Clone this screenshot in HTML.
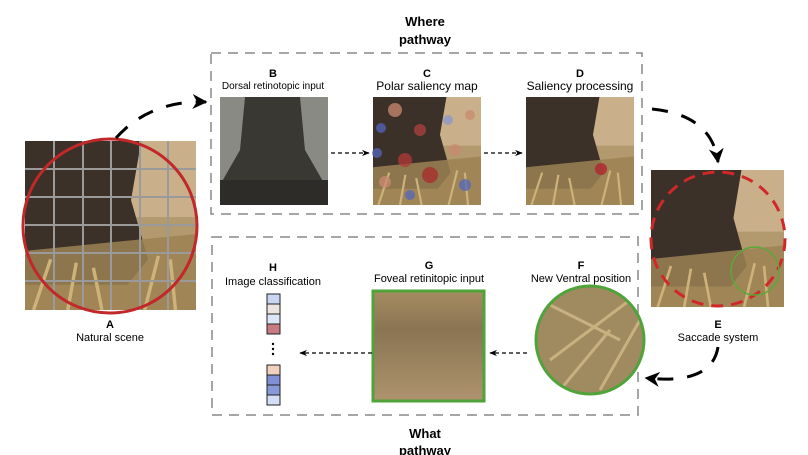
<!DOCTYPE html>
<html><head><meta charset="utf-8"><style>
html,body{margin:0;padding:0;background:#fff;}
svg{display:block;font-family:"Liberation Sans","DejaVu Sans",sans-serif;}
</style></head><body>
<svg width="808" height="455" viewBox="0 0 808 455" xmlns="http://www.w3.org/2000/svg">
<defs>
<symbol id="scene" viewBox="0 0 100 100" preserveAspectRatio="none">
<rect width="100" height="100" fill="#b39a6e"/>
<rect x="55" y="0" width="45" height="45" fill="#c9b08a"/>
<polygon points="0,0 68,0 62,35 72,70 60,85 0,85" fill="#3b3128"/>
<polygon points="0,65 100,55 100,100 0,100" fill="#9c8354" opacity="0.85"/>
<path d="M5,100 L15,70 M25,100 L30,72 M45,100 L40,75 M70,100 L78,68 M88,100 L85,70" stroke="#cdb27a" stroke-width="2"/>
</symbol>
<marker id="ah" viewBox="0 0 10 10" refX="9" refY="5" markerWidth="6" markerHeight="6" orient="auto"><path d="M0,1 L10,5 L0,9 L3,5z" fill="#000"/></marker>
<marker id="big" viewBox="0 0 10 10" refX="9" refY="5" markerWidth="5" markerHeight="5" orient="auto"><path d="M0,0 L10,5 L0,10 L3,5z" fill="#000"/></marker>
<clipPath id="fc"><circle cx="590" cy="340" r="54"/></clipPath>
</defs>

<g font-weight="bold" font-size="13" text-anchor="middle" fill="#000">
<text x="425" y="26">Where</text><text x="425" y="44">pathway</text>
<text x="425" y="438">What</text><text x="425" y="455">pathway</text>
</g>

<rect x="211" y="53" width="431" height="161" fill="none" stroke="#888" stroke-width="1.5" stroke-dasharray="10,7"/>
<rect x="212" y="237" width="426" height="178" fill="none" stroke="#888" stroke-width="1.5" stroke-dasharray="10,7"/>

<!-- A -->
<use href="#scene" x="25" y="141" width="171" height="169"/>
<g stroke="#9a9a9a" stroke-width="2">
<path d="M54,141V310M83,141V310M111,141V310M140,141V310M168,141V310M25,169H196M25,197H196M25,225H196M25,253H196M25,281H196"/>
</g>
<circle cx="110" cy="226" r="87" fill="none" stroke="#c0282a" stroke-width="3"/>
<g text-anchor="middle" font-size="11"><text x="110" y="328" font-weight="bold">A</text><text x="110" y="341">Natural scene</text></g>

<!-- B -->
<rect x="220" y="97" width="108" height="108" fill="#8a8a85"/>
<polygon points="245,97 300,97 305,150 328,190 328,205 220,205 220,185 240,150" fill="#3a3833"/>
<rect x="220" y="180" width="108" height="25" fill="#2e2c28"/>
<g text-anchor="middle"><text x="273" y="77" font-size="11" font-weight="bold">B</text><text x="273" y="89" font-size="10">Dorsal retinotopic input</text></g>

<!-- C -->
<use href="#scene" x="373" y="97" width="108" height="108"/>
<g opacity="0.75">
<circle cx="395" cy="110" r="7" fill="#c98a70"/><circle cx="381" cy="128" r="5" fill="#5566bb"/><circle cx="420" cy="130" r="6" fill="#b04040"/><circle cx="377" cy="153" r="5" fill="#5566bb"/><circle cx="405" cy="160" r="7" fill="#b53838"/><circle cx="385" cy="182" r="6" fill="#c98a70"/><circle cx="430" cy="175" r="8" fill="#a82a2a"/><circle cx="455" cy="150" r="6" fill="#c98a70"/><circle cx="448" cy="120" r="5" fill="#8899cc"/><circle cx="465" cy="185" r="6" fill="#5566bb"/><circle cx="410" cy="195" r="5" fill="#5566bb"/><circle cx="470" cy="115" r="5" fill="#c98a70"/>
</g>
<g text-anchor="middle"><text x="427" y="77" font-size="11" font-weight="bold">C</text><text x="427" y="90" font-size="12">Polar saliency map</text></g>

<!-- D -->
<use href="#scene" x="526" y="97" width="108" height="108"/>
<circle cx="601" cy="169" r="6" fill="#b02a30" opacity="0.85"/>
<g text-anchor="middle"><text x="580" y="77" font-size="11" font-weight="bold">D</text><text x="580" y="90" font-size="12">Saliency processing</text></g>

<!-- E -->
<use href="#scene" x="651" y="170" width="133" height="137"/>
<circle cx="718" cy="239" r="67" fill="none" stroke="#d0282a" stroke-width="3" stroke-dasharray="12,8"/>
<circle cx="755" cy="271" r="24" fill="none" stroke="#5aa83a" stroke-width="1.5"/>
<g text-anchor="middle" font-size="11"><text x="718" y="328" font-weight="bold">E</text><text x="718" y="341">Saccade system</text></g>

<!-- F -->
<g clip-path="url(#fc)"><rect x="530" y="280" width="120" height="120" fill="#a08a60"/><path d="M540,300 L620,340 M550,360 L630,300 M560,390 L610,330 M600,390 L640,320" stroke="#c8b080" stroke-width="3"/></g>
<circle cx="590" cy="340" r="54" fill="none" stroke="#4fa33a" stroke-width="3"/>
<g text-anchor="middle"><text x="581" y="269" font-size="11" font-weight="bold">F</text><text x="581" y="282" font-size="11">New Ventral position</text></g>

<!-- G -->
<defs><linearGradient id="gg" x1="0" y1="0" x2="0" y2="1"><stop offset="0" stop-color="#a58c62"/><stop offset="0.35" stop-color="#8a7452"/><stop offset="1" stop-color="#ad946e"/></linearGradient></defs>
<rect x="373" y="291" width="111" height="110" fill="url(#gg)" stroke="#4fa33a" stroke-width="3"/>
<g text-anchor="middle"><text x="429" y="269" font-size="11" font-weight="bold">G</text><text x="429" y="282" font-size="11">Foveal retinitopic input</text></g>

<!-- H -->
<g text-anchor="middle"><text x="273" y="271" font-size="11" font-weight="bold">H</text><text x="273" y="285" font-size="11">Image classification</text></g>
<g stroke="#222" stroke-width="1">
<rect x="267" y="294" width="13" height="10" fill="#c8d6f4"/><rect x="267" y="304" width="13" height="10" fill="#ece4e0"/><rect x="267" y="314" width="13" height="10" fill="#dde6f8"/><rect x="267" y="324" width="13" height="10" fill="#c87a82"/>
<rect x="267" y="365" width="13" height="10" fill="#f2d0c0"/><rect x="267" y="375" width="13" height="10" fill="#8090d4"/><rect x="267" y="385" width="13" height="10" fill="#8898d8"/><rect x="267" y="395" width="13" height="10" fill="#d4def6"/>
</g>
<g fill="#000"><circle cx="273" cy="344" r="1.2"/><circle cx="273" cy="349" r="1.2"/><circle cx="273" cy="354" r="1.2"/></g>

<!-- small dashed arrows -->
<g stroke="#000" stroke-width="1.3" stroke-dasharray="4,3" fill="none">
<path d="M331,153 H369" marker-end="url(#ah)"/>
<path d="M484,153 H522" marker-end="url(#ah)"/>
<path d="M527,353 H490" marker-end="url(#ah)"/>
<path d="M372,353 H300" marker-end="url(#ah)"/>
</g>

<!-- big dashed arrows -->
<g stroke="#000" stroke-width="3" fill="none" stroke-dasharray="16,14">
<path d="M116,138 Q150,100 206,102" marker-end="url(#big)"/>
<path d="M652,109 Q712,115 718,162" marker-end="url(#big)"/>
<path d="M718,347 Q712,385 646,378" marker-end="url(#big)"/>
</g>
</svg>
</body></html>
